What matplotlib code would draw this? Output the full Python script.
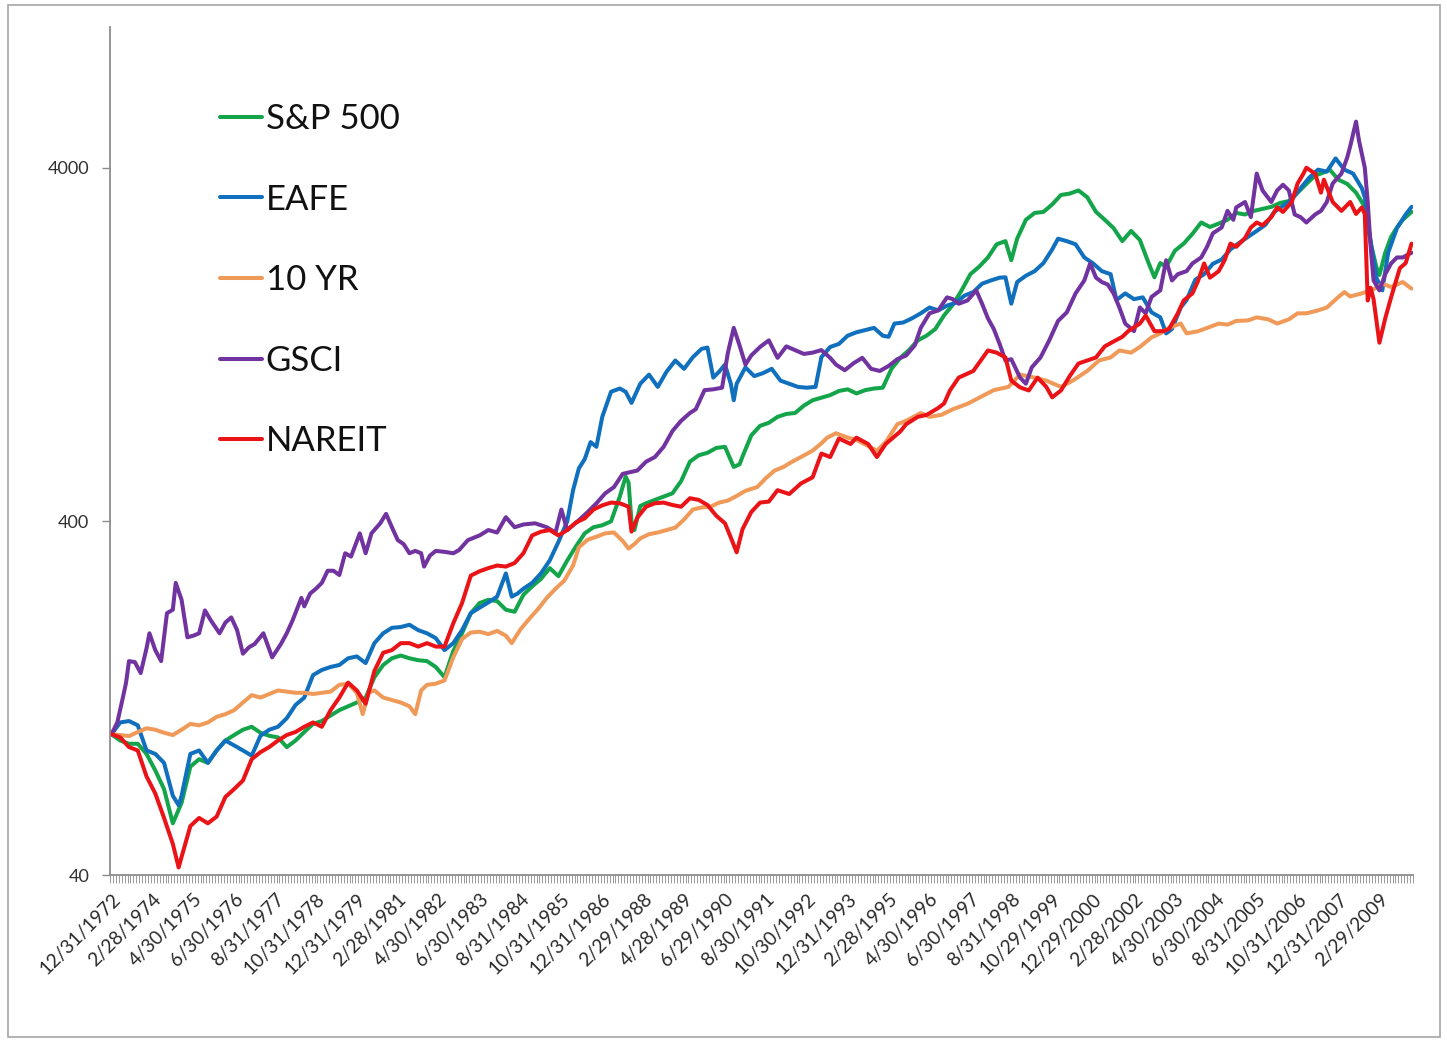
import numpy as np
import matplotlib
matplotlib.use("Agg")
import matplotlib.pyplot as plt
from matplotlib.patches import Rectangle
from matplotlib.ticker import FixedLocator, FixedFormatter, NullLocator

plt.rcParams['font.family'] = ['Lato', 'DejaVu Sans']

# ---- categories (monthly, 12/31/1972 .. 1/2010) ----
n_months = 446
tick_step = 14
tick_labels = ["12/31/1972", "2/28/1974", "4/30/1975", "6/30/1976", "8/31/1977",
               "10/31/1978", "12/31/1979", "2/28/1981", "4/30/1982", "6/30/1983",
               "8/31/1984", "10/31/1985", "12/31/1986", "2/29/1988", "4/28/1989",
               "6/29/1990", "8/30/1991", "10/30/1992", "12/31/1993", "2/28/1995",
               "4/30/1996", "6/30/1997", "8/31/1998", "10/29/1999", "12/29/2000",
               "2/28/2002", "4/30/2003", "6/30/2004", "8/31/2005", "10/31/2006",
               "12/31/2007", "2/29/2009"]
y_ticks = [40, 400, 4000]

# ---- series: (month index, growth of 100) ----
sp500 = [(0,100),(3,96),(6,94),(9,94),(12,88),(15,79),(18,70),(21,56),(24,64),(27,81),
         (30,85),(33,83),(36,90),(39,96),(42,99.5),(45,103),(48,105),(51,101),(54,99),(57,98),
         (60,92),(63,96),(66,101.5),(69,107),(72,109),(75,113),(78,117),(81,120),(84,123),(87,127),
         (90,145),(93,157),(96,164),(99,167),(102,164),(105,162),(108,161),(111,155),(114,145),(117,172),
         (120,193),(123,220),(126,235),(129,240),(132,238),(135,225),(138,222),(141,248),(144,262),(147,275),
         (150,295),(153,280),(156,310),(159,340),(162,370),(165,385),(168,390),(171,400),(174,470),(176,535),
         (177,515),(178,400),(179,378),(181,442),(183,450),(186,460),(189,470),(192,480),(195,520),(198,590),
         (201,615),(204,625),(207,645),(210,650),(213,570),(215,580),(216,610),(219,700),(222,745),(225,760),
         (228,790),(231,805),(234,810),(237,850),(240,880),(243,895),(246,910),(249,935),(252,945),(255,920),
         (258,940),(261,950),(264,955),(267,1080),(270,1160),(273,1220),(276,1300),(279,1340),(282,1400),(285,1530),
         (288,1640),(291,1800),(294,2000),(297,2100),(300,2230),(303,2430),(306,2480),(308,2190),(310,2520),(313,2850),
         (316,2980),(319,3000),(322,3150),(325,3350),(328,3380),(331,3450),(334,3300),(337,3000),(340,2850),(343,2700),
         (346,2480),(349,2650),(352,2500),(355,2150),(357,1960),(359,2150),(361,2100),(364,2330),(367,2440),(370,2600),
         (373,2800),(376,2720),(379,2780),(382,2850),(385,2980),(388,2950),(391,3020),(394,3060),(397,3100),(400,3180),
         (403,3220),(406,3400),(409,3600),(412,3800),(415,3880),(417,3950),(420,3700),(423,3600),(426,3400),(429,3100),
         (431,2450),(433,2090),(434,1990),(436,2300),(438,2550),(440,2710),(442,2850),(444,2950),(445,3000)]

eafe = [(0,100),(3,108),(6,109),(9,106),(12,90),(15,88),(18,83),(21,67),(23,63),(24,67),
        (27,88),(30,90),(33,83),(36,90),(39,96),(42,93),(45,90),(48,87),(51,99),(54,103),
        (57,105),(60,111),(63,121),(66,127),(69,147),(72,152),(75,155),(78,157),(81,164),(84,166),
        (87,159),(90,181),(93,193),(96,200),(99,201),(102,204),(105,197),(108,193),(111,187),(114,173),
        (117,181),(120,197),(123,220),(126,228),(129,236),(132,245),(135,285),(137,245),(139,250),(141,258),
        (144,268),(147,285),(150,310),(153,350),(156,400),(158,490),(160,565),(162,600),(164,670),(166,650),
        (168,790),(171,930),(174,950),(176,930),(178,865),(181,980),(184,1040),(187,960),(190,1060),(193,1140),
        (196,1080),(199,1165),(202,1230),(204,1240),(206,1020),(208,1060),(210,1110),(212,980),(213,880),(214,980),
        (217,1090),(220,1030),(223,1050),(226,1080),(229,1000),(232,980),(235,960),(238,955),(241,960),(243,1165),
        (246,1245),(249,1270),(252,1340),(255,1370),(258,1390),(261,1410),(264,1340),(266,1330),(268,1450),(271,1460),
        (274,1500),(277,1550),(280,1610),(283,1580),(286,1630),(289,1660),(292,1740),(295,1780),(298,1880),(301,1920),
        (304,1955),(306,1960),(308,1650),(310,1900),(313,1980),(316,2040),(319,2150),(322,2350),(324,2520),(327,2480),
        (330,2430),(333,2230),(336,2145),(339,2040),(342,2000),(344,1690),(347,1765),(350,1700),(353,1720),(356,1560),
        (359,1510),(361,1360),(363,1400),(366,1610),(368,1690),(371,1930),(374,2000),(377,2140),(380,2200),(383,2350),
        (386,2450),(389,2550),(392,2650),(395,2760),(398,3000),(401,3120),(404,3250),(407,3500),(410,3750),(413,3950),
        (416,3900),(419,4250),(422,3950),(425,3850),(428,3500),(429,3300),(430,2800),(433,1950),(435,1800),(437,2300),
        (440,2700),(443,2950),(445,3100)]

ten_yr = [(0,100),(3,99.5),(6,98.8),(9,101.5),(12,104),(15,103),(18,101),(21,99.5),(24,103),(27,107),
          (30,106),(33,108),(36,112),(39,114),(42,117),(45,123),(48,129),(51,127),(54,130),(57,133),
          (60,132),(63,131),(66,131),(69,130),(72,131),(75,132),(78,138),(81,139),(84,131),(86,114),
          (88,131),(90,133),(93,127),(96,125),(99,123),(102,120),(104,114),(106,133),(108,138),(111,139),
          (114,142),(117,165),(120,186),(123,194),(126,195),(129,192),(132,196),(135,190),(137,181),(140,198),
          (143,212),(146,226),(149,243),(152,258),(155,272),(158,300),(160,338),(163,355),(166,362),(169,370),
          (172,372),(175,352),(177,335),(179,345),(181,358),(184,368),(187,372),(190,378),(193,384),(196,405),
          (199,432),(202,438),(205,440),(208,452),(211,458),(214,472),(217,488),(221,500),(224,530),(227,557),
          (230,570),(233,590),(236,608),(240,634),(243,665),(245,690),(248,710),(252,690),(255,680),(258,660),
          (262,634),(265,670),(269,753),(272,770),(277,810),(280,790),(284,800),(288,830),(293,860),(297,895),
          (302,940),(307,960),(311,1040),(316,1020),(320,1000),(325,960),(329,1000),(334,1065),(338,1140),(342,1163),
          (345,1217),(349,1200),(352,1245),(356,1325),(359,1360),(362,1410),(366,1450),(368,1360),(372,1380),(375,1410),
          (379,1450),(382,1440),(385,1475),(389,1480),(392,1510),(396,1490),(399,1450),(403,1490),(406,1550),(409,1550),
          (413,1580),(416,1610),(420,1725),(422,1780),(424,1730),(428,1765),(431,1800),(433,1830),(435,1880),(438,1840),
          (440,1870),(442,1900),(445,1820)]

gsci = [(0,100),(2,108),(4,128),(5,140),(6,161),(8,160),(10,149),(12,175),(13,193),(15,173),
        (17,161),(19,220),(21,225),(22,268),(24,240),(26,188),(28,190),(30,193),(32,224),(34,210),
        (37,193),(39,207),(41,214),(43,197),(45,169),(47,176),(49,180),(52,193),(55,165),(58,180),
        (60,193),(62,210),(65,243),(66,230),(68,250),(70,258),(72,268),(74,290),(76,290),(78,282),
        (80,325),(82,318),(85,370),(87,325),(89,370),(92,395),(94,420),(96,385),(98,354),(100,345),
        (102,325),(104,330),(106,325),(107,298),(109,320),(111,330),(114,328),(117,325),(119,332),(122,354),
        (126,365),(129,378),(132,372),(135,411),(138,385),(141,392),(145,395),(149,385),(152,372),(154,432),
        (156,378),(160,403),(163,425),(166,450),(169,480),(172,500),(175,545),(178,552),(180,557),(183,590),
        (186,608),(189,650),(192,720),(195,770),(198,810),(200,830),(203,940),(206,945),(209,955),(211,1200),
        (213,1410),(215,1257),(217,1110),(219,1178),(222,1245),(225,1300),(228,1160),(231,1250),(234,1220),(237,1190),
        (240,1200),(243,1220),(246,1160),(248,1110),(251,1070),(254,1120),(257,1160),(260,1080),(263,1065),(266,1100),
        (269,1150),(272,1178),(275,1260),(277,1410),(280,1550),(283,1580),(286,1720),(288,1700),(290,1650),(293,1685),
        (296,1800),(298,1650),(300,1500),(302,1400),(304,1270),(306,1140),(308,1150),(311,1020),(313,980),(315,1090),
        (318,1163),(321,1300),(324,1475),(327,1560),(330,1765),(333,1920),(335,2145),(337,1955),(339,1900),(341,1870),
        (343,1765),(345,1610),(347,1450),(350,1380),(352,1610),(354,1550),(356,1725),(359,1800),(361,2190),(363,1920),
        (365,2000),(368,2040),(370,2145),(373,2230),(375,2390),(377,2610),(380,2710),(382,3020),(384,2850),(385,3090),
        (388,3200),(390,2900),(392,3850),(394,3450),(397,3200),(399,3450),(401,3580),(403,3450),(405,2950),(407,2900),
        (409,2800),(412,2950),(414,3020),(416,3200),(418,3610),(421,3850),(423,4280),(424,4600),(426,5400),(427,4780),
        (429,4000),(430,3200),(431,2390),(432,1920),(434,1800),(436,2000),(438,2145),(440,2230),(442,2230),(445,2300)]

nareit = [(0,100),(3,98),(6,92),(9,90),(12,76),(15,68),(18,58),(21,49),(23,42),(24,45),
          (27,55),(30,58),(33,56),(36,58.5),(39,66.5),(42,70),(45,74),(48,85),(51,89),(54,92),
          (57,96),(60,99.5),(63,101.5),(66,105),(69,108),(72,105),(75,117),(78,127),(81,140),(84,133),
          (87,122),(90,151),(93,170),(96,173),(99,181),(102,181),(105,177),(108,181),(111,177),(114,177),
          (117,206),(120,235),(123,281),(126,289),(129,295),(132,300),(135,298),(138,305),(141,325),(144,365),
          (147,374),(150,378),(153,365),(156,378),(159,397),(162,408),(165,432),(168,444),(171,452),(174,450),
          (177,440),(178,374),(180,410),(183,440),(186,450),(189,452),(192,445),(195,440),(198,465),(201,460),
          (204,445),(207,415),(210,395),(212,360),(214,327),(216,380),(219,425),(222,452),(225,455),(228,490),
          (232,478),(236,512),(240,533),(243,622),(246,608),(249,686),(253,662),(255,690),(259,662),(262,608),
          (265,662),(270,718),(272,753),(276,790),(279,800),(283,837),(285,862),(287,938),(290,1020),(295,1065),
          (300,1217),(303,1200),(306,1163),(308,1000),(311,957),(314,938),(317,1020),(320,960),(322,897),(325,938),
          (328,1030),(331,1118),(334,1140),(337,1163),(340,1250),(343,1290),(346,1330),(348,1380),(352,1450),(354,1528),
          (357,1380),(360,1380),(362,1400),(365,1550),(367,1685),(370,1765),(372,1920),(374,2145),(376,1955),(379,2040),
          (381,2188),(383,2440),(385,2390),(388,2530),(390,2710),(392,2800),(394,2750),(397,2900),(399,3090),(401,3000),
          (404,3200),(406,3610),(408,3850),(409,4000),(412,3850),(414,3400),(415,3700),(418,3200),(421,3020),(424,3200),
          (426,2960),(428,3090),(429,2960),(430,1685),(431,1830),(432,1700),(434,1280),(436,1500),(438,1720),(441,2080),
          (443,2150),(445,2440)]

series_names = ["S&P 500", "EAFE", "10 YR", "GSCI", "NAREIT"]
series_data = [sp500, eafe, ten_yr, gsci, nareit]
series_colors = ["#14A54B", "#1070BD", "#F09A5A", "#7133A0", "#EA1418"]

# ---- figure ----
W, H = 1447, 1041
fig = plt.figure(figsize=(W / 100, H / 100), dpi=100)
fig.patch.set_facecolor("white")
fig.patches.append(Rectangle((8 / W, 4 / H), (1440 - 8) / W, (1036 - 4) / H,
                             transform=fig.transFigure, fill=False,
                             edgecolor="#A6A6A6", linewidth=1.2))

ax = fig.add_axes([110 / W, 1 - 875 / H, (1413 - 110) / W, (875 - 27) / H])

lines = []
for name, data, col in zip(series_names, series_data, series_colors):
    m, v = zip(*data)
    ln, = ax.plot(m, v, color=col, linewidth=2.9, solid_joinstyle="round",
                  solid_capstyle="round", label=name)
    lines.append(ln)

ax.set_yscale("log")
ax.set_ylim(40, 10000)
ax.set_xlim(-0.5, n_months - 0.5)

ax.yaxis.set_major_locator(FixedLocator(y_ticks))
ax.yaxis.set_major_formatter(FixedFormatter([str(t) for t in y_ticks]))
ax.yaxis.set_minor_locator(NullLocator())

tick_pos = list(range(0, tick_step * len(tick_labels), tick_step))
ax.xaxis.set_major_locator(FixedLocator(tick_pos))
ax.xaxis.set_major_formatter(FixedFormatter(tick_labels))
ax.xaxis.set_minor_locator(FixedLocator(np.arange(-0.5, n_months, 1.0)))

for sp in ["top", "right"]:
    ax.spines[sp].set_visible(False)
for sp in ["left", "bottom"]:
    ax.spines[sp].set_color("#8C8C8C")
    ax.spines[sp].set_linewidth(1.3)

ax.tick_params(axis="y", which="major", length=6, width=1.0, color="#8C8C8C",
               labelsize=13, labelcolor="#303030", pad=9)
ax.tick_params(axis="x", which="major", length=0, labelsize=13.8,
               labelcolor="#2A2A2A", pad=11)
ax.tick_params(axis="x", which="minor", length=6, width=0.6, color="#8C8C8C")
for lab in ax.get_xticklabels():
    lab.set_rotation(45)
    lab.set_ha("right")
    lab.set_rotation_mode("anchor")

leg = ax.legend(handles=lines, loc="upper left",
                bbox_to_anchor=(220 / W, 1 - 103 / H), bbox_transform=fig.transFigure,
                frameon=False, fontsize=25, handlelength=1.2, handletextpad=0.12,
                labelspacing=1.40, borderpad=0, borderaxespad=0)
for t in leg.get_texts():
    t.set_color("#111111")

fig.savefig("out.png", dpi=100, facecolor="white")
